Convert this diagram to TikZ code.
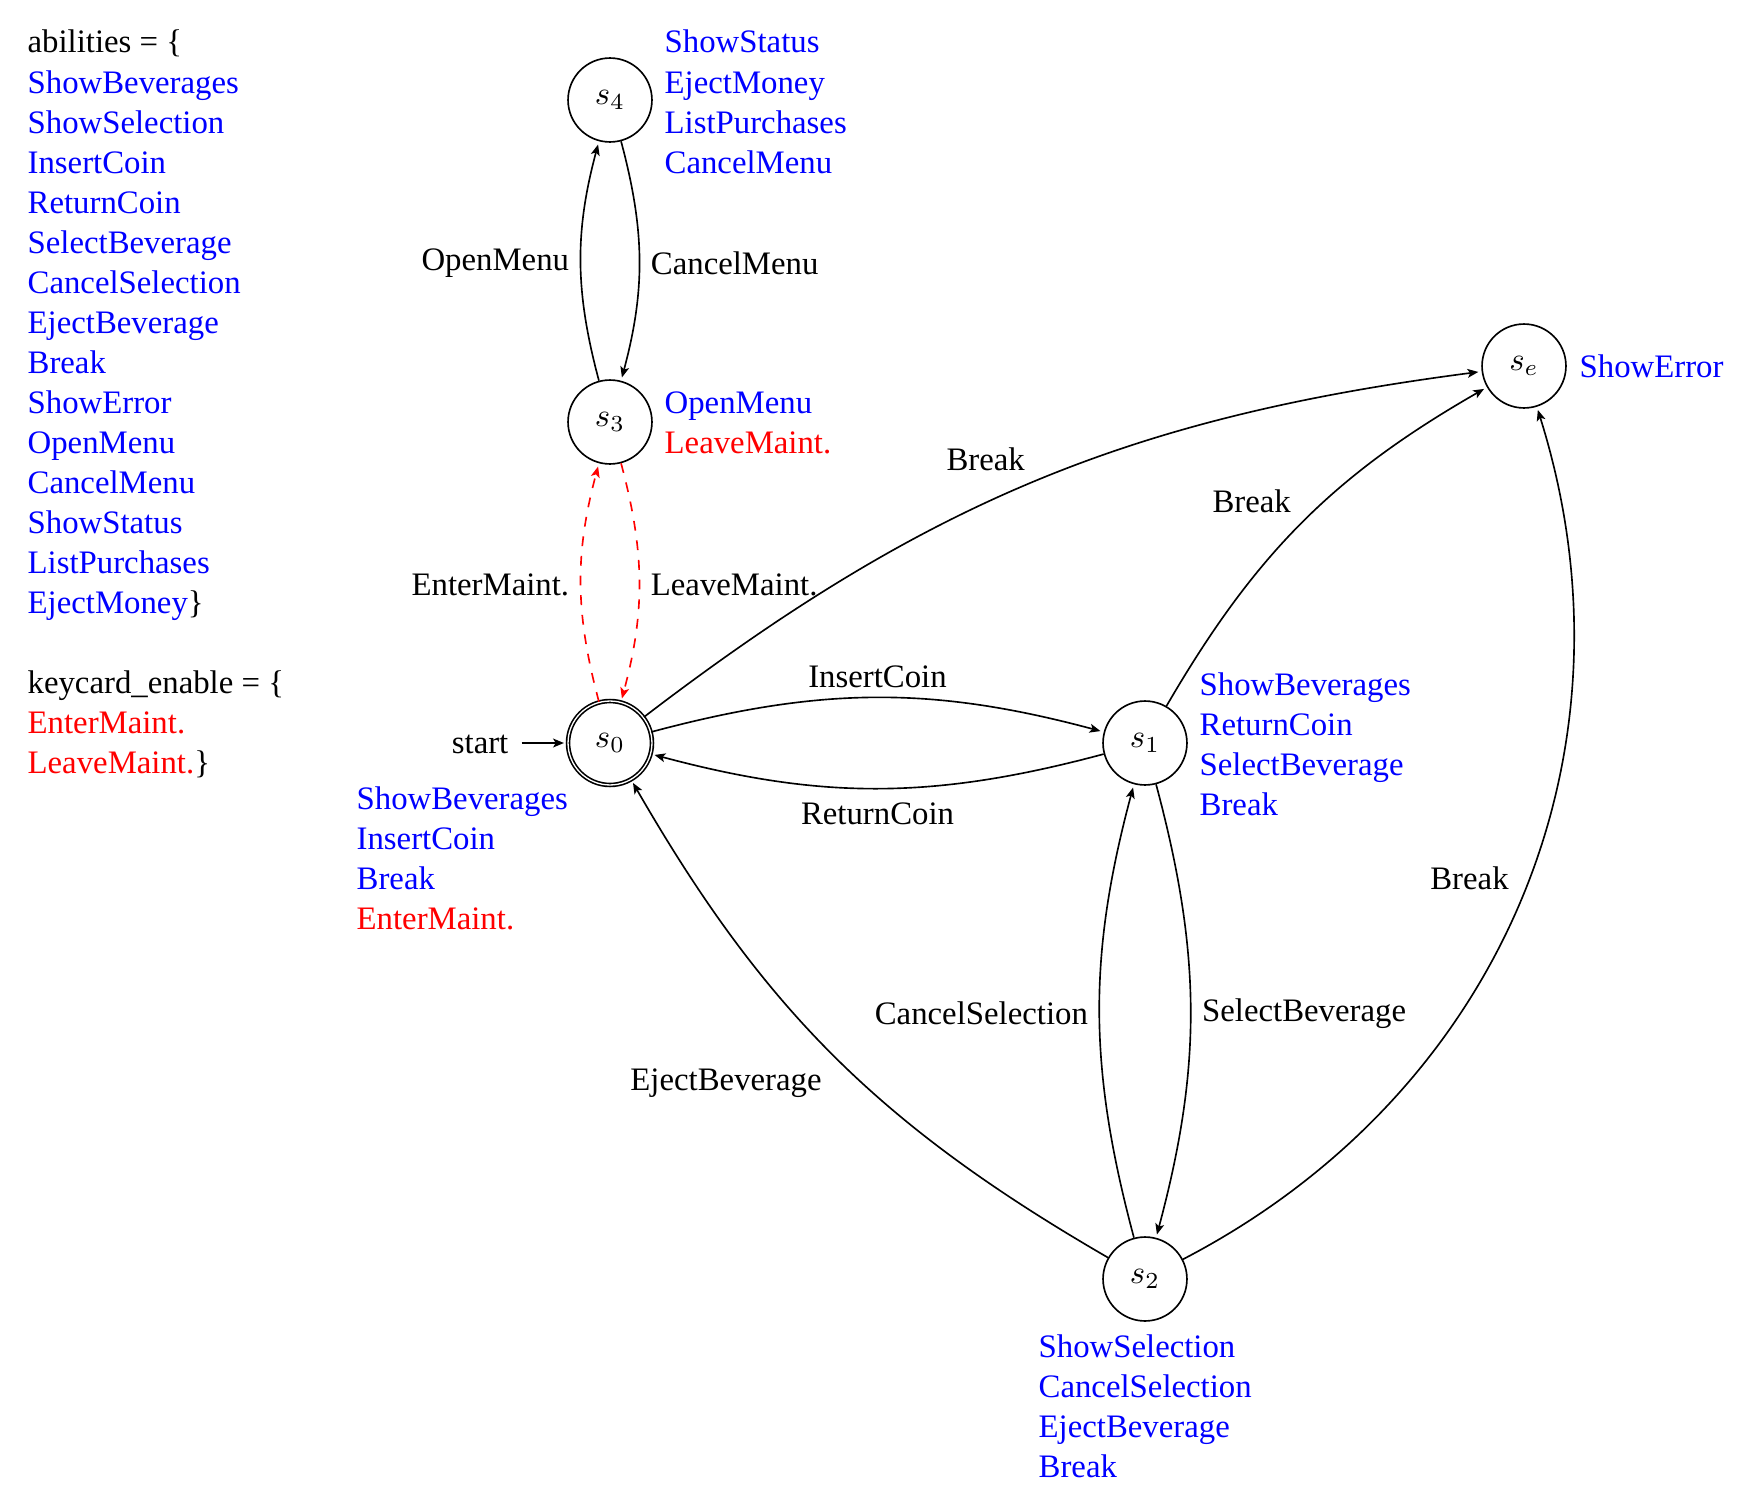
\documentclass[tikz,border=0pt]{standalone}
\usepackage{fontspec}
\setmainfont{Liberation Serif}
\usetikzlibrary{arrows.meta}
\begin{document}
\begin{tikzpicture}[x=0.305pt,y=-0.305pt,
  st/.style={circle, draw, line width=0.5pt, minimum size=25.6pt, inner sep=0pt},
  acc/.style={double, double distance=0.4pt},
  tr/.style={draw, line width=0.5pt, -{Stealth[length=3.3pt,width=2.7pt,inset=0.8pt]}, shorten >=1pt, auto},
  mt/.style={tr, red, dashed},
  lst/.style={anchor=base west, inner sep=0pt, text=blue},
  lbl/.style={text=black, yshift=-0.7pt}]
\useasboundingbox (0,0) rectangle (1741,1500);

% states
\node[st, acc] (s0) at (610,743) {$s_0$};
\node[st] (s1) at (1145,743) {$s_1$};
\node[st] (s2) at (1145,1279) {$s_2$};
\node[st] (s3) at (610,422) {$s_3$};
\node[st] (s4) at (610,100) {$s_4$};
\node[st] (se) at (1524,366) {$s_e$};

% initial arrow
\node[anchor=base east, inner sep=0pt] (startlbl) at (509,753.5) {start};
\coordinate (initpt) at (521.7,743);
\draw[tr] (initpt) -- (s0);

% transitions
\draw[tr] (s3) to[bend left=15] node[lbl] {OpenMenu} (s4);
\draw[tr] (s4) to[bend left=15] node[lbl] {CancelMenu} (s3);
\draw[mt] (s0) to[bend left=15] node[lbl] {EnterMaint.} (s3);
\draw[mt] (s3) to[bend left=15] node[lbl] {LeaveMaint.} (s0);
\draw[tr] (s0) to[bend left=15] node[lbl] {InsertCoin} (s1);
\draw[tr] (s1) to[bend left=15] node[lbl] {ReturnCoin} (s0);
\draw[tr] (s1) to[bend left=15] node[lbl] {SelectBeverage} (s2);
\draw[tr] (s2) to[bend left=15] node[lbl] {CancelSelection} (s1);
\draw[tr] (s2) to[bend left=15] node[lbl] {EjectBeverage} (s0);
\draw[tr] (s0) to[bend left=15] node[lbl] {Break} (se);
\draw[tr] (s1) to[bend left=15] node[lbl] {Break} (se);
\draw[tr] (s2) to[bend right=40] node[lbl] {Break} (se);

% global ability list
\node[lst, text=black] (ab0) at (27,53) {abilities = \{};
\foreach \w [count=\i] in {ShowBeverages,ShowSelection,InsertCoin,ReturnCoin,SelectBeverage,CancelSelection,EjectBeverage,Break,ShowError,OpenMenu,CancelMenu,ShowStatus,ListPurchases}
  \node[lst] (ab\i) at (27,{53+40.05*\i}) {\w};
\node[lst] (ab14) at (27,{53+40.05*14}) {EjectMoney\textcolor{black}{\}}};
\node[lst, text=black] (kc0) at (27,{53+40.05*16}) {keycard\_enable = \{};
\node[lst, text=red] (kc1) at (27,{53+40.05*17}) {EnterMaint.};
\node[lst, text=red] (kc2) at (27,{53+40.05*18}) {LeaveMaint.\textcolor{black}{\}}};

% per-state lists
\foreach \w [count=\i from 0] in {ShowStatus,EjectMoney,ListPurchases,CancelMenu}
  \node[lst] (l4\i) at (664,{53+40.05*\i}) {\w};
\node[lst] (l30) at (664,413.8) {OpenMenu};
\node[lst, text=red] (l31) at (664,453.8) {LeaveMaint.};
\foreach \w [count=\i from 0] in {ShowBeverages,InsertCoin,Break}
  \node[lst] (l0\i) at (356,{809.5+40.05*\i}) {\w};
\node[lst, text=red] (l03) at (356,{809.5+40.05*3}) {EnterMaint.};
\foreach \w [count=\i from 0] in {ShowBeverages,ReturnCoin,SelectBeverage,Break}
  \node[lst] (l1\i) at (1199,{695.8+40.05*\i}) {\w};
\foreach \w [count=\i from 0] in {ShowSelection,CancelSelection,EjectBeverage,Break}
  \node[lst] (l2\i) at (1038,{1357+40.05*\i}) {\w};
\node[lst] (le0) at (1579,377.7) {ShowError};
\end{tikzpicture}
\end{document}
